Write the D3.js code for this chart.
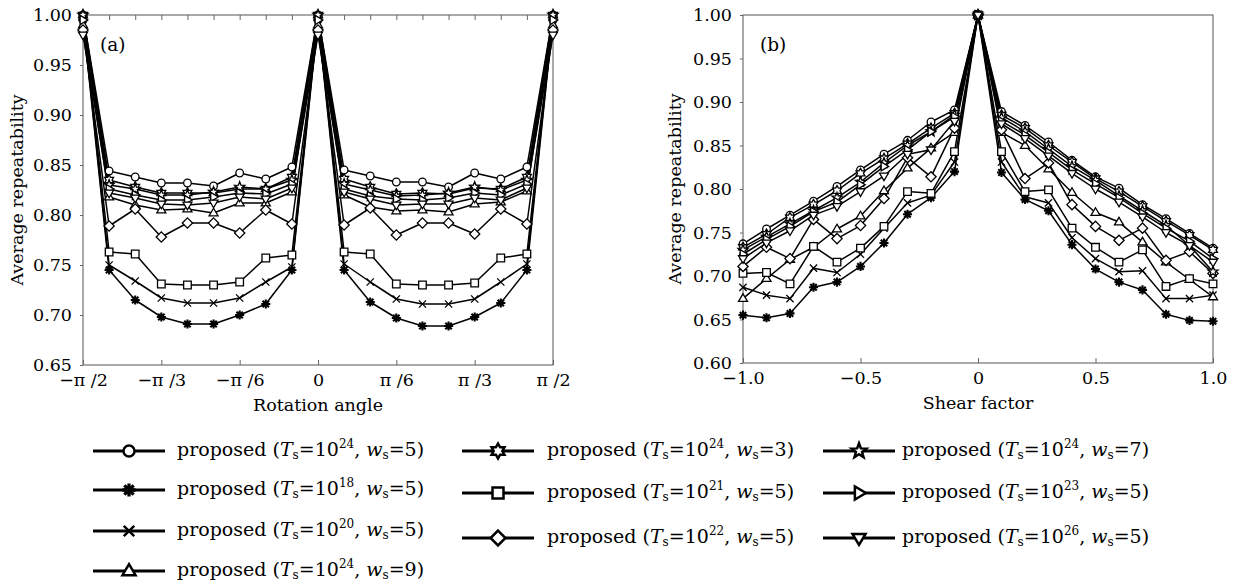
<!DOCTYPE html>
<html>
<head>
<meta charset="utf-8">
<script src="https://cdn.jsdelivr.net/npm/d3@7"></script>
<style>
  body { margin: 0; background: #fff; }
  text { font-family: "DejaVu Serif", serif; fill: #000; }
</style>
</head>
<body>
<svg id="chart" width="1235" height="587"></svg>
<script>
// x categories
var rotationDeg = [-90, -80, -70, -60, -50, -40, -30, -20, -10, 0, 10, 20, 30, 40, 50, 60, 70, 80, 90];
var rotationTicks = [-90, -60, -30, 0, 30, 60, 90];
var rotationTickLabels = ["\u2212\u03c0 /2", "\u2212\u03c0 /3", "\u2212\u03c0 /6", "0", "\u03c0 /6", "\u03c0 /3", "\u03c0 /2"];
var shearFactor = [-1.0, -0.9, -0.8, -0.7, -0.6, -0.5, -0.4, -0.3, -0.2, -0.1, 0, 0.1, 0.2, 0.3, 0.4, 0.5, 0.6, 0.7, 0.8, 0.9, 1.0];
var shearTicks = [-1.0, -0.5, 0, 0.5, 1.0];
var shearTickLabels = ["\u22121.0", "\u22120.5", "0", "0.5", "1.0"];
var rotYTicks = [0.65, 0.70, 0.75, 0.80, 0.85, 0.90, 0.95, 1.00];
var shearYTicks = [0.60, 0.65, 0.70, 0.75, 0.80, 0.85, 0.90, 0.95, 1.00];

// legend: marker kind, T_s exponent, w_s
var markerKinds = ["circle", "asterisk", "cross", "triUp", "star6", "square", "diamond", "star5", "triRight", "triDown"];
var legendT = [24, 18, 20, 24, 24, 21, 22, 24, 23, 26];
var legendW = [5, 5, 5, 9, 3, 5, 5, 7, 5, 5];

// (a) rotation
var rotCircle   = [1.000, 0.844, 0.838, 0.832, 0.832, 0.829, 0.842, 0.836, 0.848, 1.000, 0.845, 0.839, 0.833, 0.833, 0.828, 0.842, 0.836, 0.848, 1.000];
var rotAsterisk = [0.995, 0.745, 0.715, 0.698, 0.691, 0.691, 0.700, 0.711, 0.745, 0.995, 0.745, 0.713, 0.697, 0.689, 0.689, 0.698, 0.712, 0.745, 0.995];
var rotCross    = [0.997, 0.750, 0.734, 0.717, 0.712, 0.712, 0.717, 0.733, 0.748, 0.997, 0.751, 0.733, 0.716, 0.711, 0.711, 0.716, 0.733, 0.751, 0.997];
var rotTriUp    = [0.990, 0.818, 0.810, 0.805, 0.806, 0.802, 0.812, 0.812, 0.823, 0.990, 0.820, 0.808, 0.804, 0.805, 0.803, 0.811, 0.813, 0.824, 0.990];
var rotStar6    = [1.000, 0.835, 0.828, 0.822, 0.822, 0.822, 0.826, 0.826, 0.838, 1.000, 0.836, 0.828, 0.821, 0.822, 0.821, 0.827, 0.826, 0.838, 1.000];
var rotSquare   = [0.998, 0.763, 0.761, 0.731, 0.730, 0.730, 0.733, 0.757, 0.760, 0.998, 0.763, 0.761, 0.731, 0.730, 0.730, 0.732, 0.757, 0.761, 0.998];
var rotDiamond  = [0.985, 0.789, 0.806, 0.778, 0.792, 0.792, 0.782, 0.805, 0.791, 0.985, 0.790, 0.807, 0.780, 0.792, 0.792, 0.781, 0.806, 0.791, 0.985];
var rotStar5    = [1.000, 0.830, 0.826, 0.820, 0.820, 0.823, 0.828, 0.826, 0.835, 1.000, 0.831, 0.825, 0.819, 0.820, 0.822, 0.828, 0.825, 0.835, 1.000];
var rotTriRight = [0.995, 0.826, 0.820, 0.815, 0.815, 0.818, 0.822, 0.821, 0.831, 0.995, 0.826, 0.819, 0.816, 0.815, 0.817, 0.822, 0.820, 0.831, 0.995];
var rotTriDown  = [0.980, 0.822, 0.817, 0.811, 0.810, 0.812, 0.818, 0.816, 0.827, 0.980, 0.823, 0.816, 0.810, 0.811, 0.811, 0.817, 0.815, 0.827, 0.980];

// (b) shear
var shCircle   = [0.737, 0.754, 0.770, 0.786, 0.803, 0.822, 0.840, 0.856, 0.877, 0.891, 1.000, 0.889, 0.873, 0.854, 0.833, 0.814, 0.801, 0.782, 0.766, 0.749, 0.732];
var shAsterisk = [0.655, 0.652, 0.657, 0.687, 0.693, 0.711, 0.738, 0.771, 0.790, 0.820, 1.000, 0.819, 0.788, 0.775, 0.736, 0.708, 0.693, 0.684, 0.656, 0.649, 0.648];
var shCross    = [0.687, 0.678, 0.674, 0.709, 0.704, 0.725, 0.755, 0.784, 0.793, 0.831, 1.000, 0.831, 0.791, 0.784, 0.744, 0.720, 0.705, 0.706, 0.674, 0.674, 0.678];
var shTriUp    = [0.674, 0.697, 0.719, 0.733, 0.754, 0.769, 0.798, 0.824, 0.847, 0.865, 1.000, 0.865, 0.850, 0.823, 0.796, 0.773, 0.762, 0.739, 0.716, 0.696, 0.676];
var shStar6    = [0.733, 0.748, 0.767, 0.782, 0.798, 0.818, 0.835, 0.852, 0.870, 0.887, 1.000, 0.885, 0.870, 0.850, 0.831, 0.812, 0.797, 0.780, 0.763, 0.747, 0.730];
var shSquare   = [0.703, 0.704, 0.691, 0.734, 0.716, 0.732, 0.757, 0.797, 0.795, 0.843, 1.000, 0.843, 0.797, 0.799, 0.755, 0.733, 0.716, 0.730, 0.688, 0.697, 0.691];
var shDiamond  = [0.711, 0.733, 0.720, 0.765, 0.743, 0.758, 0.789, 0.836, 0.814, 0.870, 1.000, 0.868, 0.812, 0.830, 0.782, 0.757, 0.741, 0.755, 0.718, 0.728, 0.703];
var shStar5    = [0.730, 0.745, 0.760, 0.775, 0.790, 0.808, 0.830, 0.850, 0.866, 0.885, 1.000, 0.882, 0.866, 0.846, 0.826, 0.810, 0.792, 0.775, 0.758, 0.735, 0.705];
var shTriRight = [0.725, 0.742, 0.757, 0.774, 0.785, 0.805, 0.826, 0.845, 0.866, 0.883, 1.000, 0.878, 0.862, 0.842, 0.822, 0.806, 0.790, 0.772, 0.755, 0.740, 0.720];
var shTriDown  = [0.720, 0.738, 0.752, 0.770, 0.780, 0.797, 0.815, 0.840, 0.845, 0.878, 1.000, 0.875, 0.858, 0.838, 0.818, 0.800, 0.785, 0.768, 0.750, 0.735, 0.716];

var rotSeries = [rotCircle, rotAsterisk, rotCross, rotTriUp, rotStar6, rotSquare, rotDiamond, rotStar5, rotTriRight, rotTriDown];
var shSeries = [shCircle, shAsterisk, shCross, shTriUp, shStar6, shSquare, shDiamond, shStar5, shTriRight, shTriDown];

var svg = d3.select("#chart");
svg.append("rect").attr("width", 1235).attr("height", 587).attr("fill", "#fff");

// marker shapes, centred on 0,0
function markerPath(kind, r) {
  var p = [], i, a, rr;
  switch (kind) {
    case "circle": return d3.symbol(d3.symbolCircle, Math.PI * r * r)();
    case "square": return "M" + (-r) + "," + (-r) + "H" + r + "V" + r + "H" + (-r) + "Z";
    case "diamond": rr = r * 1.35; return "M0," + (-rr) + "L" + rr + ",0L0," + rr + "L" + (-rr) + ",0Z";
    case "triUp": rr = r * 1.25; return "M0," + (-rr) + "L" + (rr * 0.95) + "," + (rr * 0.6) + "L" + (-rr * 0.95) + "," + (rr * 0.6) + "Z";
    case "triDown": rr = r * 1.25; return "M0," + rr + "L" + (rr * 0.95) + "," + (-rr * 0.6) + "L" + (-rr * 0.95) + "," + (-rr * 0.6) + "Z";
    case "triRight": rr = r * 1.25; return "M" + rr + ",0L" + (-rr * 0.6) + "," + (rr * 0.95) + "L" + (-rr * 0.6) + "," + (-rr * 0.95) + "Z";
    case "cross": rr = r * 0.95; return "M" + (-rr) + "," + (-rr) + "L" + rr + "," + rr + "M" + (-rr) + "," + rr + "L" + rr + "," + (-rr);
    case "asterisk":
      rr = r * 1.2;
      for (i = 0; i < 4; i++) {
        a = i * Math.PI / 4;
        p.push("M" + (rr * Math.cos(a)) + "," + (rr * Math.sin(a)) + "L" + (-rr * Math.cos(a)) + "," + (-rr * Math.sin(a)));
      }
      return p.join("");
    case "star6":
      rr = r * 1.35;
      for (i = 0; i < 12; i++) {
        a = -Math.PI / 2 + i * Math.PI / 6;
        var rad = i % 2 ? rr / Math.sqrt(3) : rr;
        p.push((i ? "L" : "M") + (rad * Math.cos(a)) + "," + (rad * Math.sin(a)));
      }
      return p.join("") + "Z";
    case "star5":
      rr = r * 1.4;
      for (i = 0; i < 10; i++) {
        a = -Math.PI / 2 + i * Math.PI / 5;
        var rad5 = i % 2 ? rr * 0.42 : rr;
        p.push((i ? "L" : "M") + (rad5 * Math.cos(a)) + "," + (rad5 * Math.sin(a)));
      }
      return p.join("") + "Z";
  }
}

function drawMarker(g, kind, x, y, r, sw) {
  var bold = kind === "asterisk" || kind === "cross";
  g.append("path")
    .attr("d", markerPath(kind, r))
    .attr("transform", "translate(" + x + "," + y + ")")
    .attr("fill", bold ? "none" : "#fff")
    .attr("stroke", "#000")
    .attr("stroke-width", kind === "asterisk" ? sw + 0.8 : sw);
}

function drawPanel(opts) {
  var g = svg.append("g");
  var x = d3.scaleLinear().domain(opts.xDomain).range([opts.left, opts.right]);
  var y = d3.scaleLinear().domain(opts.yDomain).range([opts.bottom, opts.top]);

  // frame
  g.append("rect")
    .attr("x", opts.left).attr("y", opts.top)
    .attr("width", opts.right - opts.left).attr("height", opts.bottom - opts.top)
    .attr("fill", "none").attr("stroke", "#555").attr("stroke-width", 1);

  var yAxis = g.append("g").attr("transform", "translate(" + opts.left + ",0)")
    .call(d3.axisLeft(y).tickValues(opts.yTicks).tickFormat(d3.format(".2f")).tickSize(3).tickPadding(8));
  var xAxis = g.append("g").attr("transform", "translate(0," + opts.bottom + ")")
    .call(d3.axisBottom(x).tickValues(opts.xTicks).tickFormat(function (d, i) { return opts.xTickLabels[i]; }).tickSize(-5).tickPadding(9));
  if (opts.topTicks) {
    g.append("g").attr("transform", "translate(0," + opts.top + ")")
      .call(d3.axisTop(x).tickValues(opts.topTicks).tickFormat("").tickSize(-5))
      .select(".domain").remove();
  }
  [yAxis, xAxis].forEach(function (ax) {
    ax.select(".domain").remove();
    ax.selectAll("text").attr("font-family", "DejaVu Serif").attr("font-size", 17.5).attr("fill", "#000");
  });
  g.selectAll(".tick line").attr("stroke", "#666");

  // series lines
  var line = d3.line().x(function (d, i) { return x(opts.xVals[i]); }).y(function (d) { return y(d); });
  opts.series.forEach(function (s) {
    g.append("path").datum(s).attr("d", line)
      .attr("fill", "none").attr("stroke", "#000").attr("stroke-width", 1.5).attr("stroke-linejoin", "round");
  });
  // markers
  opts.series.forEach(function (s, k) {
    s.forEach(function (v, i) {
      drawMarker(g, markerKinds[k], x(opts.xVals[i]), y(v), 3.8, 1.3);
    });
  });

  g.append("text").attr("x", opts.left + 17).attr("y", opts.top + 36)
    .attr("font-size", 18.5).text(opts.tag);
  g.append("text").attr("x", (opts.left + opts.right) / 2).attr("y", opts.bottom + 46)
    .attr("text-anchor", "middle").attr("font-size", 17.5).text(opts.xTitle);
  g.append("text")
    .attr("transform", "translate(" + opts.yTitleX + "," + ((opts.top + opts.bottom) / 2) + ") rotate(-90)")
    .attr("text-anchor", "middle").attr("font-size", 17.5).text("Average repeatability");
}

drawPanel({
  left: 83, right: 553, top: 15, bottom: 365,
  xDomain: [-90, 90], yDomain: [0.65, 1.0],
  xVals: rotationDeg, xTicks: rotationTicks, xTickLabels: rotationTickLabels,
  topTicks: rotationDeg, yTicks: rotYTicks,
  series: rotSeries, tag: "(a)", xTitle: "Rotation angle", yTitleX: 23
});

drawPanel({
  left: 743, right: 1213, top: 15, bottom: 363,
  xDomain: [-1, 1], yDomain: [0.60, 1.0],
  xVals: shearFactor, xTicks: shearTicks, xTickLabels: shearTickLabels,
  topTicks: null, yTicks: shearYTicks,
  series: shSeries, tag: "(b)", xTitle: "Shear factor", yTitleX: 681
});

// legend
var colLineX = [93, 462, 823];
var colTextX = [177, 547, 902];
var colRowY = [[451, 490, 531, 571], [451, 493, 538], [451, 493, 538]];
var itemCol = [0, 0, 0, 0, 1, 1, 1, 2, 2, 2];
var itemRow = [0, 1, 2, 3, 0, 1, 2, 0, 1, 2];

var lg = svg.append("g");
markerKinds.forEach(function (kind, k) {
  var c = itemCol[k], yy = colRowY[c][itemRow[k]];
  var x0 = colLineX[c], x1 = x0 + 72;
  lg.append("line").attr("x1", x0).attr("x2", x1).attr("y1", yy).attr("y2", yy)
    .attr("stroke", "#000").attr("stroke-width", 2.8);
  drawMarker(lg, kind, (x0 + x1) / 2, yy, 5.5, 2.5);

  var t = lg.append("text").attr("x", colTextX[c]).attr("y", yy + 5).attr("font-size", 19);
  t.append("tspan").text("proposed (");
  t.append("tspan").attr("font-style", "italic").text("T");
  t.append("tspan").attr("font-size", 12).attr("dy", 3).text("s");
  t.append("tspan").attr("dy", -3).text("=10");
  t.append("tspan").attr("font-size", 12).attr("dy", -8).text(legendT[k]);
  t.append("tspan").attr("dy", 8).text(", ");
  t.append("tspan").attr("font-style", "italic").text("w");
  t.append("tspan").attr("font-size", 12).attr("dy", 3).text("s");
  t.append("tspan").attr("dy", -3).text("=" + legendW[k] + ")");
});
</script>
</body>
</html>
